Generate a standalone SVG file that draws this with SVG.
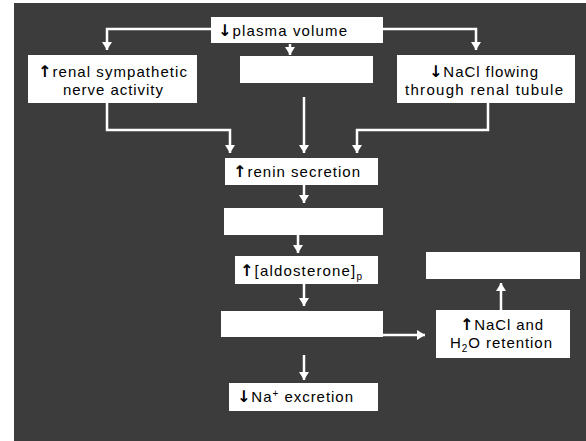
<svg xmlns="http://www.w3.org/2000/svg" width="586" height="441" viewBox="0 0 586 441">
<style>
.box{fill:#ffffff;}
.t{font-family:"Liberation Sans",Arial,sans-serif;font-size:15px;fill:#000;}
.ar{font-family:"DejaVu Sans","Liberation Sans",sans-serif;font-weight:bold;font-size:16px;fill:#000;}
.c{fill:none;stroke:#ffffff;stroke-width:2.5;marker-end:url(#ah);}
</style>
<defs>
<marker id="ah" markerUnits="userSpaceOnUse" markerWidth="10" markerHeight="10" refX="8" refY="5" orient="auto">
<path d="M0,0 L8,5 L0,10 z" fill="#ffffff"/>
</marker>
</defs>
<rect x="0" y="0" width="586" height="441" fill="#ffffff"/>
<rect x="14" y="3" width="572" height="438" fill="#3c3c3c"/>

<g id="connectors">
<path class="c" d="M211,29 H107 V50"/>
<path class="c" d="M383,29 H476 V50"/>
<path class="c" d="M290,44 V55"/>
<path class="c" d="M304,97 V153"/>
<path class="c" d="M107,103 V130 H230 V153"/>
<path class="c" d="M488,103 V130 H357 V153"/>
<path class="c" d="M304,185 V203"/>
<path class="c" d="M298,235 V253"/>
<path class="c" d="M304,284 V306"/>
<path class="c" d="M304,355 V380"/>
<path class="c" d="M383,335 H425"/>
<path class="c" d="M501,310 V283"/>
</g>

<g id="plasma">
<rect class="box" x="211" y="17" width="172" height="26"/>
<text class="t" x="218" y="36" textLength="129" lengthAdjust="spacing"><tspan class="ar">↓</tspan>plasma volume</text>
</g>
<g id="sympathetic">
<rect class="box" x="28" y="55" width="169" height="48"/>
<text class="t" x="38" y="77" textLength="149" lengthAdjust="spacing"><tspan class="ar">↑</tspan>renal sympathetic</text>
<text class="t" x="63" y="95" textLength="100" lengthAdjust="spacing">nerve activity</text>
</g>
<g id="blank1">
<rect class="box" x="240" y="56" width="133" height="27"/>
</g>
<g id="nacl-flow">
<rect class="box" x="397" y="55" width="178" height="48"/>
<text class="t" x="429" y="77" textLength="109" lengthAdjust="spacing"><tspan class="ar">↓</tspan>NaCl flowing</text>
<text class="t" x="405" y="95" textLength="158" lengthAdjust="spacing">through renal tubule</text>
</g>
<g id="renin">
<rect class="box" x="225" y="158" width="153" height="27"/>
<text class="t" x="233" y="177" textLength="127" lengthAdjust="spacing"><tspan class="ar">↑</tspan>renin secretion</text>
</g>
<g id="blank2">
<rect class="box" x="224" y="208" width="159" height="27"/>
</g>
<g id="aldosterone">
<rect class="box" x="235" y="256" width="143" height="28"/>
<text class="t" x="240" y="276" textLength="122" lengthAdjust="spacing"><tspan class="ar">↑</tspan>[aldosterone]<tspan font-size="10" dy="4">p</tspan></text>
</g>
<g id="blank-right">
<rect class="box" x="426" y="252" width="154" height="27"/>
</g>
<g id="blank3">
<rect class="box" x="221" y="311" width="162" height="26"/>
</g>
<g id="retention">
<rect class="box" x="436" y="310" width="134" height="48"/>
<text class="t" x="460" y="330" textLength="83" lengthAdjust="spacing"><tspan class="ar">↑</tspan>NaCl and</text>
<text class="t" x="450" y="348" textLength="102" lengthAdjust="spacing">H<tspan font-size="10" dy="4">2</tspan><tspan dy="-4">O retention</tspan></text>
</g>
<g id="na-excretion">
<rect class="box" x="229" y="383" width="149" height="28"/>
<text class="t" x="237" y="402" textLength="116" lengthAdjust="spacing"><tspan class="ar">↓</tspan>Na<tspan font-size="10" dy="-5">+</tspan><tspan dy="5"> excretion</tspan></text>
</g>
</svg>
